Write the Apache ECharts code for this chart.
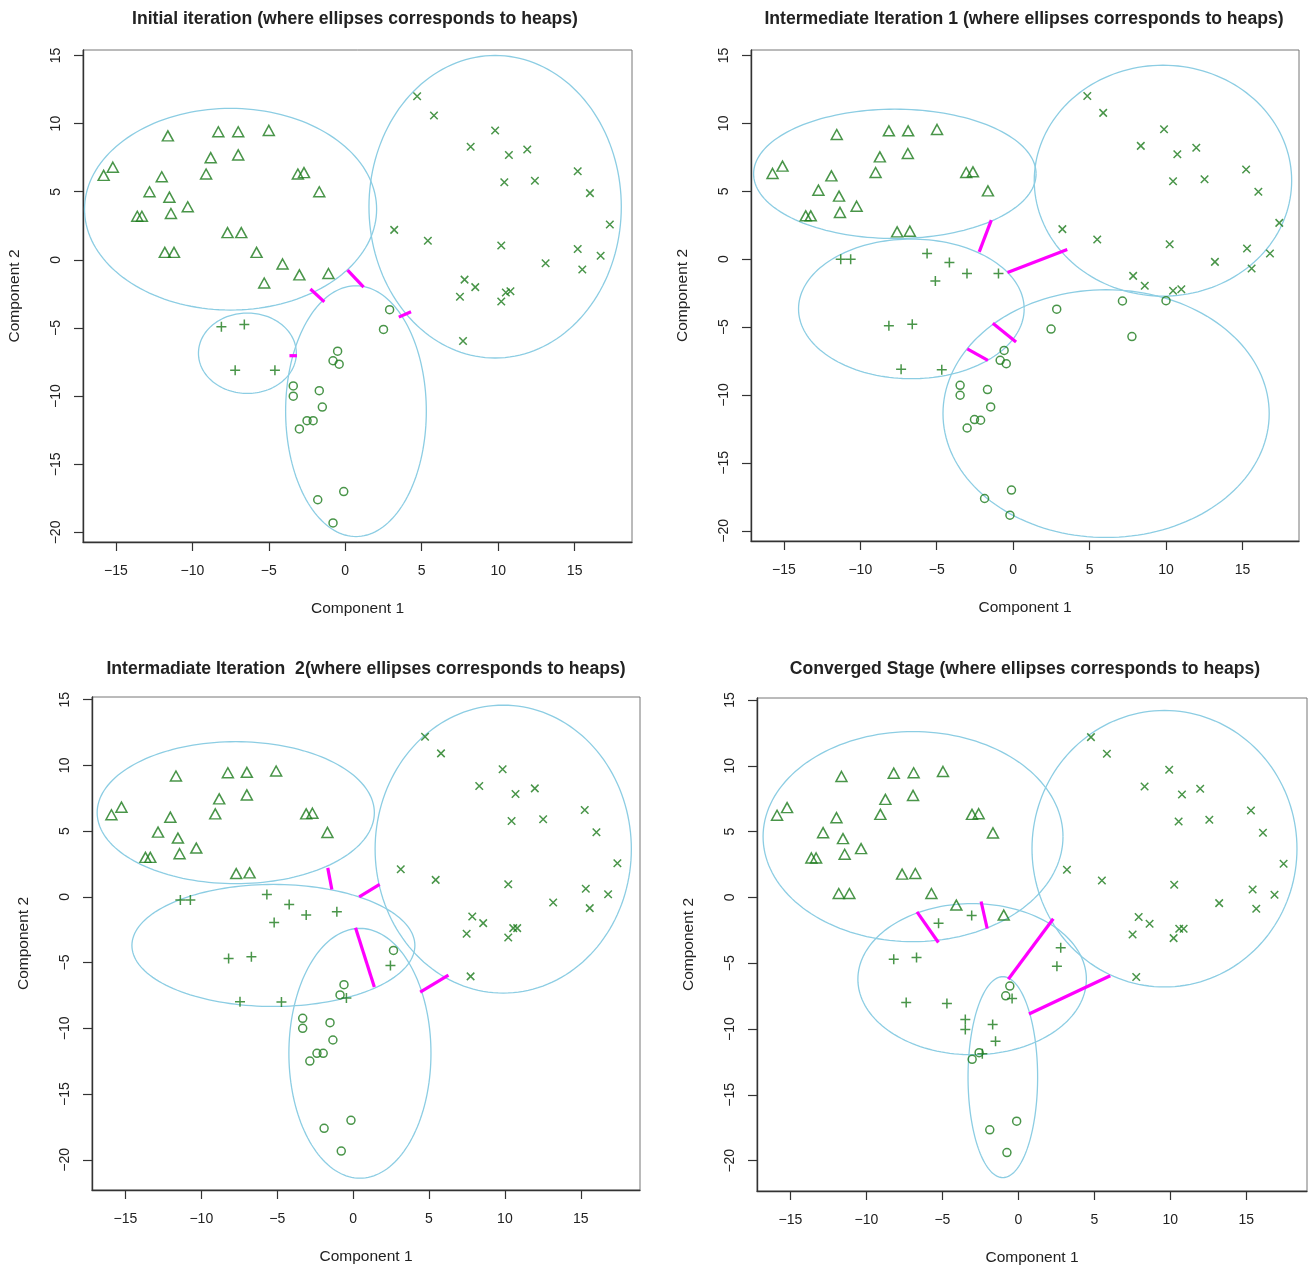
<!DOCTYPE html>
<html>
<head>
<meta charset="utf-8">
<script src="https://cdn.jsdelivr.net/npm/echarts@6/dist/echarts.min.js"></script>
<style>
html,body{margin:0;padding:0;background:#fff;}
#chart{width:1310px;height:1267px;}
</style>
</head>
<body>
<div id="chart"></div>
<script>
// ---------- tick labels ----------
const tickX = [-15, -10, -5, 0, 5, 10, 15];
const tickY = [-20, -15, -10, -5, 0, 5, 10, 15];

// ---------- titles ----------
const titles = [
  "Initial iteration (where ellipses corresponds to heaps)",
  "Intermediate Iteration 1 (where ellipses corresponds to heaps)",
  "Intermadiate Iteration  2(where ellipses corresponds to heaps)",
  "Converged Stage (where ellipses corresponds to heaps)"
];
const xName = "Component 1";
const yName = "Component 2";

// ---------- panel 1 ----------
const p1Triangles = [[-15.8,6.2],[-15.2,6.8],[-11.6,9.1],[-8.3,9.4],[-7.0,9.4],[-5.0,9.5],[-8.8,7.5],[-7.0,7.7],[-9.1,6.3],[-12.0,6.1],[-12.8,5.0],[-11.5,4.6],[-10.3,3.9],[-11.4,3.4],[-13.6,3.2],[-13.3,3.2],[-3.1,6.3],[-2.7,6.4],[-1.7,5.0],[-7.7,2.0],[-6.8,2.0],[-11.8,0.55],[-11.2,0.55],[-5.8,0.55],[-4.1,-0.3],[-3.0,-1.1],[-1.1,-1.0],[-5.3,-1.7]];
const p1Plus = [[-8.1,-4.9],[-6.6,-4.75],[-7.2,-8.1],[-4.6,-8.1]];
const p1Circles = [[2.9,-3.65],[2.5,-5.1],[-0.5,-6.7],[-0.8,-7.4],[-0.4,-7.65],[-3.4,-9.25],[-3.4,-10.0],[-1.7,-9.6],[-1.5,-10.8],[-2.5,-11.8],[-2.1,-11.8],[-3.0,-12.4],[-0.1,-17.0],[-1.8,-17.6],[-0.8,-19.3]];
const p1Crosses = [[4.7,12.0],[5.8,10.6],[9.8,9.5],[8.2,8.3],[10.7,7.7],[11.9,8.1],[10.4,5.7],[12.4,5.8],[15.2,6.5],[16.0,4.9],[17.3,2.6],[3.2,2.2],[5.4,1.4],[10.2,1.05],[15.2,0.8],[16.7,0.3],[13.1,-0.25],[15.5,-0.7],[7.8,-1.45],[8.5,-2.0],[7.5,-2.7],[10.5,-2.4],[10.8,-2.3],[10.2,-3.05],[7.7,-5.95]];
// ellipse: [centerX, centerY, radiusX, radiusY, angleDeg]
const p1Ellipses = [[-7.5,3.72,9.55,7.4,0],[9.8,3.9,8.25,11.1,0],[0.7,-11.1,4.6,9.2,0],[-6.4,-6.85,3.2,2.95,0]];
// link: [x1, y1, x2, y2]
const p1Links = [[-3.65,-7.03,-3.16,-7.03],[-2.28,-2.14,-1.37,-3.08],[0.15,-0.75,1.2,-2.0],[3.5,-4.2,4.3,-3.8]];

// ---------- panel 2 ----------
const p2Triangles = [[-15.74,6.31],[-15.09,6.85],[-11.54,9.18],[-8.13,9.45],[-6.87,9.45],[-4.98,9.55],[-8.72,7.53],[-6.89,7.78],[-9.0,6.38],[-11.89,6.13],[-12.74,5.08],[-11.39,4.64],[-10.24,3.9],[-11.33,3.44],[-13.57,3.19],[-13.24,3.19],[-3.07,6.38],[-2.63,6.43],[-1.65,5.03],[-7.59,2.01],[-6.76,2.06]];
const p2Plus = [[-11.28,0],[-10.63,0],[-5.63,0.42],[-4.17,-0.25],[-3.02,-1.06],[-0.96,-1.06],[-5.09,-1.6],[-8.13,-4.9],[-6.6,-4.79],[-7.33,-8.11],[-4.67,-8.14]];
const p2Circles = [[2.85,-3.68],[2.48,-5.15],[7.15,-3.08],[7.77,-5.7],[10.0,-3.06],[-0.59,-6.72],[-0.85,-7.45],[-0.45,-7.7],[-3.47,-9.29],[-3.47,-10.02],[-1.68,-9.6],[-1.47,-10.88],[-2.53,-11.81],[-2.13,-11.86],[-3.01,-12.43],[-0.11,-17.0],[-1.87,-17.62],[-0.21,-18.85]];
const p2Crosses = [[4.85,12.02],[5.89,10.77],[9.87,9.57],[8.35,8.34],[10.74,7.73],[11.98,8.2],[10.46,5.74],[12.52,5.89],[15.24,6.6],[16.04,4.96],[17.41,2.67],[3.22,2.21],[5.5,1.45],[10.24,1.1],[15.3,0.79],[16.8,0.42],[13.2,-0.2],[15.6,-0.69],[7.85,-1.23],[8.61,-1.96],[10.46,-2.33],[11.0,-2.21]];
const p2Ellipses = [[-7.74,6.28,9.24,4.76,0],[-6.66,-3.66,7.38,5.14,0],[9.8,5.78,8.42,8.5,0],[6.08,-11.37,10.67,9.12,0]];
const p2Links = [[-1.43,2.87,-2.22,0.54],[-0.37,-0.98,3.54,0.71],[-1.33,-4.71,0.19,-6.1],[-3.0,-6.6,-1.65,-7.45]];

// ---------- panel 3 ----------
const p3Triangles = [[-15.92,6.24],[-15.26,6.82],[-11.67,9.19],[-8.25,9.44],[-7.0,9.47],[-5.07,9.57],[-8.82,7.45],[-7.0,7.75],[-9.08,6.31],[-12.04,6.06],[-12.85,4.92],[-11.54,4.47],[-10.33,3.71],[-11.43,3.28],[-13.68,3.0],[-13.36,3.0],[-3.09,6.31],[-2.68,6.36],[-1.69,4.9],[-7.7,1.77],[-6.82,1.82]];
const p3Plus = [[-11.38,-0.25],[-10.72,-0.25],[-5.68,0.18],[-4.21,-0.58],[-3.09,-1.39],[-1.07,-1.14],[-5.2,-1.95],[-8.2,-4.7],[-6.7,-4.56],[-7.45,-7.99],[-4.72,-8.0],[-0.44,-7.7],[2.46,-5.22]];
const p3Circles = [[2.66,-4.08],[-0.6,-6.68],[-0.86,-7.46],[-3.32,-9.24],[-3.32,-10.0],[-1.52,-9.57],[-1.33,-10.89],[-2.38,-11.9],[-1.97,-11.9],[-2.85,-12.49],[-0.14,-17.0],[-1.91,-17.61],[-0.78,-19.34]];
const p3Crosses = [[4.74,12.18],[5.79,10.91],[9.85,9.7],[8.31,8.43],[10.7,7.82],[11.97,8.25],[10.44,5.77],[12.52,5.9],[15.26,6.61],[16.03,4.91],[17.41,2.56],[3.14,2.1],[5.44,1.29],[10.22,0.96],[15.33,0.61],[16.8,0.2],[13.18,-0.43],[15.59,-0.86],[7.85,-1.49],[8.57,-2.0],[7.48,-2.81],[10.55,-2.38],[10.81,-2.38],[10.22,-3.09],[7.74,-6.05]];
const p3Ellipses = [[-7.73,6.4,9.13,5.4,0],[-5.25,-3.7,9.32,4.64,0],[0.45,-11.9,4.68,9.5,0],[9.89,3.63,8.44,10.95,0]];
const p3Links = [[-1.67,2.2,-1.4,0.56],[0.4,0.0,1.75,0.95],[0.16,-2.36,1.4,-6.86],[4.42,-7.25,6.28,-5.96]];

// ---------- panel 4 ----------
const p4Triangles = [[-15.88,6.24],[-15.22,6.82],[-11.64,9.19],[-8.2,9.44],[-6.89,9.47],[-4.96,9.57],[-8.75,7.45],[-6.93,7.75],[-9.08,6.31],[-11.97,6.06],[-12.85,4.92],[-11.54,4.47],[-10.35,3.71],[-11.43,3.28],[-13.62,3.0],[-13.31,3.0],[-3.05,6.31],[-2.61,6.36],[-1.67,4.9],[-7.65,1.77],[-6.78,1.82],[-11.82,0.3],[-11.12,0.3],[-5.72,0.3],[-4.08,-0.58],[-0.96,-1.34]];
const p4Plus = [[-5.25,-1.96],[-3.07,-1.38],[-8.2,-4.7],[-6.7,-4.56],[-7.38,-7.99],[-4.7,-8.06],[2.79,-3.83],[2.54,-5.22],[-0.41,-7.68],[-3.49,-9.27],[-3.49,-10.04],[-1.69,-9.66],[-1.5,-10.93],[-2.37,-11.87]];
const p4Circles = [[-0.56,-6.73],[-0.83,-7.47],[-2.58,-11.79],[-3.04,-12.3],[-0.11,-17.0],[-1.88,-17.65],[-0.75,-19.38]];
const p4Crosses = [[4.78,12.18],[5.83,10.91],[9.93,9.7],[8.31,8.43],[10.77,7.82],[11.97,8.25],[10.55,5.77],[12.57,5.9],[15.31,6.61],[16.1,4.91],[17.46,2.56],[3.2,2.1],[5.5,1.29],[10.26,0.96],[15.42,0.61],[16.86,0.2],[13.22,-0.43],[15.66,-0.86],[7.92,-1.49],[8.64,-2.0],[7.52,-2.81],[10.59,-2.38],[10.88,-2.38],[10.22,-3.09],[7.76,-6.05]];
const p4Ellipses = [[-6.93,4.62,9.87,7.98,0],[-3.04,-6.21,7.52,5.74,0],[-1.02,-13.65,2.29,7.63,0],[9.62,3.7,8.72,10.5,0]];
const p4Links = [[-6.67,-1.1,-5.26,-3.42],[-2.45,-0.31,-2.05,-2.36],[2.3,-1.62,-0.66,-6.22],[6.05,-5.95,0.7,-8.85]];

// ---------- layout / styling (not data) ----------
const panels = [
  {tri:p1Triangles, plus:p1Plus, circ:p1Circles, cross:p1Crosses, ell:p1Ellipses, links:p1Links,
   grid:{left:83, top:50, width:549, height:492}, xr:[-17.15,18.75], yr:[-20.7,15.4], title:{x:355, y:10}},
  {tri:p2Triangles, plus:p2Plus, circ:p2Circles, cross:p2Crosses, ell:p2Ellipses, links:p2Links,
   grid:{left:751, top:50, width:548, height:491}, xr:[-17.15,18.7], yr:[-20.75,15.4], title:{x:1024, y:10}},
  {tri:p3Triangles, plus:p3Plus, circ:p3Circles, cross:p3Crosses, ell:p3Ellipses, links:p3Links,
   grid:{left:92, top:697, width:548, height:493}, xr:[-17.2,18.9], yr:[-22.3,15.2], title:{x:366, y:660}},
  {tri:p4Triangles, plus:p4Plus, circ:p4Circles, cross:p4Crosses, ell:p4Ellipses, links:p4Links,
   grid:{left:757, top:698, width:550, height:493}, xr:[-17.2,19.0], yr:[-22.3,15.15], title:{x:1025, y:660}}
];

const GREEN = '#1c7a1c';
const BLUE = '#8ccde3';
const MAGENTA = '#ff00ff';
const FONT = 'Liberation Sans, Arial, sans-serif';
const minus = v => String(v).replace('-', '\u2212');

function renderEllipse(params, api) {
  const cx = api.value(0), cy = api.value(1), rx = api.value(2), ry = api.value(3);
  const a = api.value(4) * Math.PI / 180;
  const pts = [];
  const N = 160;
  for (let k = 0; k <= N; k++) {
    const t = 2 * Math.PI * k / N;
    const dx = rx * Math.cos(t), dy = ry * Math.sin(t);
    pts.push(api.coord([cx + dx * Math.cos(a) - dy * Math.sin(a), cy + dx * Math.sin(a) + dy * Math.cos(a)]));
  }
  return {type:'polyline', shape:{points:pts}, style:{stroke:BLUE, fill:'none', lineWidth:1.3}};
}
function renderLink(params, api) {
  const p1 = api.coord([api.value(0), api.value(1)]);
  const p2 = api.coord([api.value(2), api.value(3)]);
  return {type:'line', shape:{x1:p1[0], y1:p1[1], x2:p2[0], y2:p2[1]}, style:{stroke:MAGENTA, lineWidth:3.2, lineCap:'butt'}};
}

const grids = [], xAxes = [], yAxes = [], series = [], titleArr = [];
const hollow = {color:'rgba(0,0,0,0)', borderColor:GREEN, borderWidth:1.5};

panels.forEach((p, i) => {
  grids.push(Object.assign({show:true, borderColor:'#777', borderWidth:1, backgroundColor:'#fff'}, p.grid));
  xAxes.push({
    type:'value', gridIndex:i, min:p.xr[0], max:p.xr[1], position:'bottom',
    splitLine:{show:false},
    axisLine:{show:true, onZero:false, lineStyle:{color:'#333', width:1.4}},
    axisTick:{show:true, length:9, inside:false, customValues:tickX, lineStyle:{color:'#333', width:1.2}},
    axisLabel:{show:true, customValues:tickX, margin:22, fontSize:14, color:'#222', fontFamily:FONT, formatter:minus},
    name:xName, nameLocation:'middle', nameGap:59,
    nameTextStyle:{fontSize:15.5, color:'#222', fontFamily:FONT}
  });
  yAxes.push({
    type:'value', gridIndex:i, min:p.yr[0], max:p.yr[1], position:'left',
    splitLine:{show:false},
    axisLine:{show:true, onZero:false, lineStyle:{color:'#333', width:1.4}},
    axisTick:{show:true, length:9, inside:false, customValues:tickY, lineStyle:{color:'#333', width:1.2}},
    axisLabel:{show:true, customValues:tickY, rotate:90, margin:20, fontSize:14, color:'#222', fontFamily:FONT, formatter:minus},
    name:yName, nameLocation:'middle', nameGap:60,
    nameTextStyle:{fontSize:15.5, color:'#222', fontFamily:FONT}
  });
  titleArr.push({
    text:titles[i], left:p.title.x, top:p.title.y, textAlign:'center', padding:0,
    textStyle:{fontSize:17.6, fontWeight:'bold', color:'#222', fontFamily:FONT}
  });
  series.push({type:'custom', xAxisIndex:i, yAxisIndex:i, data:p.ell, renderItem:renderEllipse, silent:true, z:2});
  series.push({type:'custom', xAxisIndex:i, yAxisIndex:i, data:p.links, renderItem:renderLink, silent:true, z:3});
  series.push({type:'scatter', xAxisIndex:i, yAxisIndex:i, data:p.tri, symbol:'triangle', symbolSize:[11,10], itemStyle:hollow, z:4});
  series.push({type:'scatter', xAxisIndex:i, yAxisIndex:i, data:p.circ, symbol:'circle', symbolSize:8, itemStyle:hollow, z:4});
  series.push({type:'scatter', xAxisIndex:i, yAxisIndex:i, data:p.plus, symbol:'path://M5,0L5,10M0,5L10,5', symbolSize:10, itemStyle:hollow, z:4});
  series.push({type:'scatter', xAxisIndex:i, yAxisIndex:i, data:p.cross, symbol:'path://M0,0L10,10M10,0L0,10', symbolSize:7.5, itemStyle:hollow, z:4});
});

const chart = echarts.init(document.getElementById('chart'), null, {renderer:'canvas'});
chart.setOption({
  backgroundColor:'#fff',
  animation:false,
  title:titleArr,
  grid:grids,
  xAxis:xAxes,
  yAxis:yAxes,
  series:series
});
</script>
</body>
</html>
